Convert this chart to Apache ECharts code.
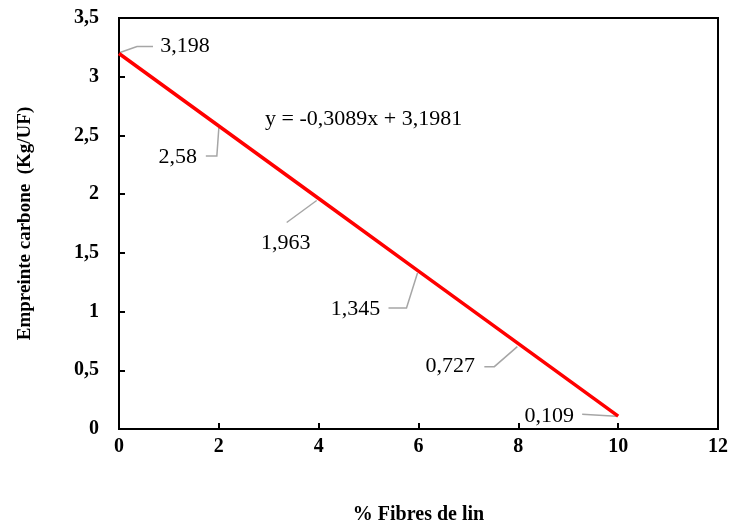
<!DOCTYPE html>
<html><head><meta charset="utf-8">
<script src="https://cdn.jsdelivr.net/npm/echarts@6/dist/echarts.min.js"></script>
<style>html,body{margin:0;padding:0;background:#fff}#c{width:734px;height:530px}</style>
</head><body><div id="c"></div>
<script>
const xValues = [0, 2, 4, 6, 8, 10];
const yValues = [3.198, 2.58, 1.963, 1.345, 0.727, 0.109];
const labelTexts = ['3,198', '2,58', '1,963', '1,345', '0,727', '0,109'];
const xTicks = { min: 0, max: 12, interval: 2 };
const yTicks = { min: 0, max: 3.5, interval: 0.5 };
const equationText = 'y = -0,3089x + 3,1981';
// layout only: label centre offsets from the point, and leader-line vertex offsets
const labelShift = [[66, -7], [-41, 31], [-33, 45], [-63, 38], [-68, 23], [-69, 0]];
const leaderPts = [
  [[1, -1], [18, -7], [34, -7]],
  [[0, 2], [-2, 30], [-13, 30]],
  [[-2, 2], [-32, 24]],
  [[-1, 2], [-12, 37], [-30, 37]],
  [[-1, 3], [-24, 23], [-34, 23]],
  [[-2, 0], [-36, -2]]
];

const FONT = "'Liberation Serif', 'DejaVu Serif', serif";
const chart = echarts.init(document.getElementById('c'), null, { renderer: 'canvas' });
const fmt = v => String(v).replace('.', ',');
chart.setOption({
  animation: false,
  backgroundColor: '#fff',
  grid: { left: 119, right: 16, top: 18, bottom: 90, show: true, borderColor: '#000', borderWidth: 2 },
  xAxis: {
    type: 'value', min: xTicks.min, max: xTicks.max, interval: xTicks.interval,
    name: '% Fibres de lin', nameLocation: 'middle', nameGap: 76,
    nameTextStyle: { fontFamily: FONT, fontWeight: 'bold', fontSize: 20, color: '#000' },
    axisLine: { lineStyle: { color: '#000', width: 2 } },
    axisTick: { inside: true, length: 6, lineStyle: { color: '#000', width: 2 } },
    axisLabel: { margin: 8, fontFamily: FONT, fontWeight: 'bold', fontSize: 20, color: '#000', formatter: fmt },
    splitLine: { show: false }
  },
  yAxis: {
    type: 'value', min: yTicks.min, max: yTicks.max, interval: yTicks.interval,
    name: 'Empreinte carbone  (Kg/UF)', nameLocation: 'middle', nameGap: 84,
    nameTextStyle: { fontFamily: FONT, fontWeight: 'bold', fontSize: 19, color: '#000' },
    axisLine: { lineStyle: { color: '#000', width: 2 } },
    axisTick: { inside: true, length: 6, lineStyle: { color: '#000', width: 2 } },
    axisLabel: { margin: 20, fontFamily: FONT, fontWeight: 'bold', fontSize: 20, color: '#000', formatter: fmt },
    splitLine: { show: false }
  },
  series: [{
    type: 'custom',
    z: 1,
    data: xValues.map((x, i) => [x, yValues[i], i]),
    renderItem: (params, api) => {
      const i = api.value(2);
      const p = api.coord([api.value(0), api.value(1)]);
      return {
        type: 'group',
        children: [{
          type: 'polyline',
          shape: { points: leaderPts[i].map(o => [p[0] + o[0], p[1] + o[1]]) },
          style: { stroke: '#a6a6a6', lineWidth: 1.5, fill: null }
        }, {
          type: 'text',
          x: p[0] + labelShift[i][0], y: p[1] + labelShift[i][1],
          style: {
            text: labelTexts[i], fill: '#000', align: 'center', verticalAlign: 'middle',
            font: "22px 'Liberation Serif', serif"
          }
        }]
      };
    }
  }, {
    type: 'line',
    z: 3,
    data: xValues.map((x, i) => [x, yValues[i]]),
    showSymbol: false,
    lineStyle: { color: '#ff0000', width: 3.5 },
    itemStyle: { color: '#ff0000' }
  }],
  graphic: [{
    type: 'text', left: 265, top: 108,
    style: { text: equationText, fontFamily: FONT, fontSize: 22, fill: '#000' }
  }]
});
</script></body></html>
